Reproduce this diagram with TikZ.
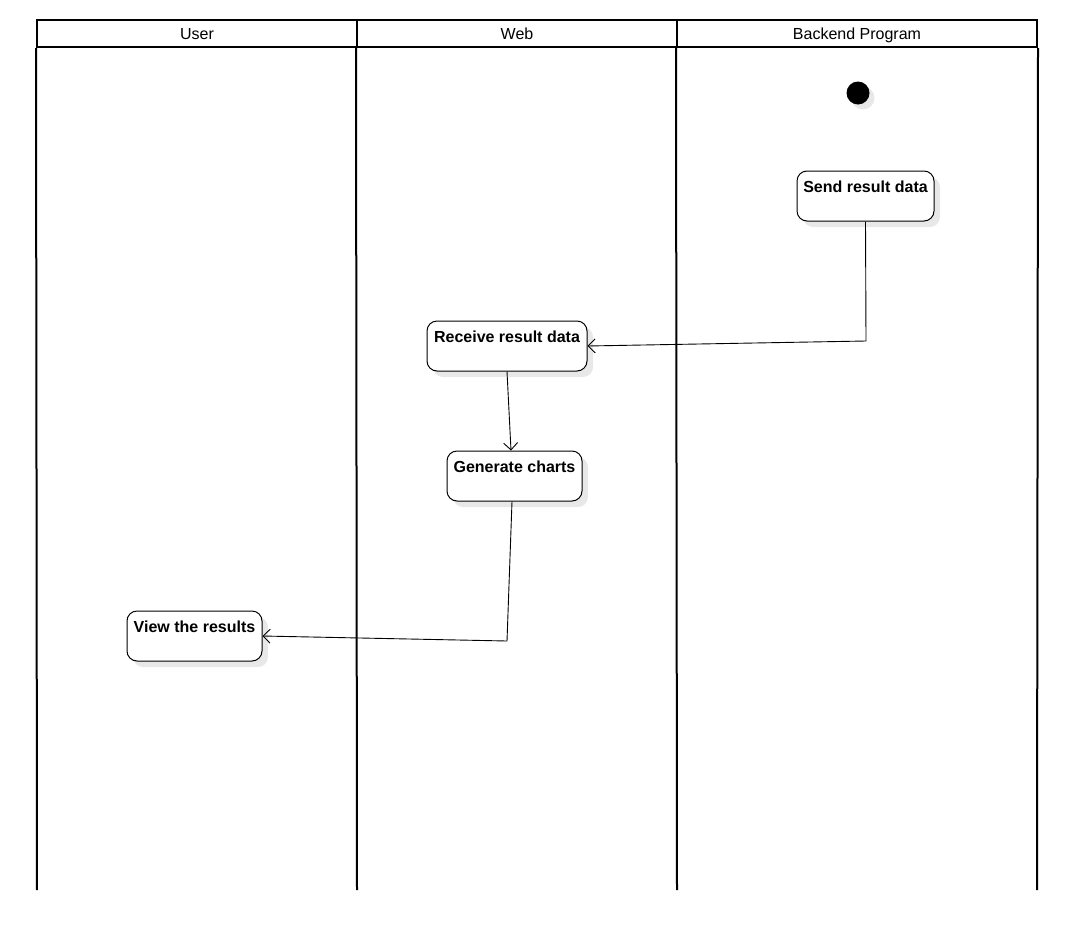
\documentclass[tikz,border=0pt]{standalone}
\usepackage{fontspec}
\setmainfont{Liberation Sans}
\usetikzlibrary{arrows.meta,shadows}
\begin{document}
\begin{tikzpicture}[x=1pt,y=-1pt,
  lanehead/.style={draw,line width=2pt,minimum height=27pt,inner sep=0pt,text height=13pt,text depth=2pt,font=\fontsize{16}{19}\selectfont},
  laneline/.style={line width=2pt},
  act/.style={draw,line width=1pt,rounded corners=10pt,fill=white,inner xsep=0pt,inner ysep=0pt,
    text height=21pt,text depth=29pt,font=\bfseries\fontsize{16}{19}\selectfont,
    drop shadow={shadow xshift=6pt,shadow yshift=-6pt,fill=black!9,opacity=1}},
  start/.style={circle,fill=black,minimum size=23pt,inner sep=0pt,
    drop shadow={shadow xshift=5pt,shadow yshift=-5pt,fill=black!9,opacity=1}},
  flow/.style={line width=0.9pt,-{Straight Barb[length=7pt,width=14pt,line width=0.9pt]}}
]
\useasboundingbox (0,0) rectangle (1082,929);
% lanes
\node[lanehead,minimum width=320pt] (h1) at (197,33.5) {User};
\node[lanehead,minimum width=320pt] (h2) at (517,33.5) {Web};
\node[lanehead,minimum width=360pt] (h3) at (857,33.5) {Backend Program};
\draw[laneline] (h1.south west) -- (37,890);
\draw[laneline] (h2.south west) -- (357,890);
\draw[laneline] (h3.south west) -- (677,890);
\draw[laneline] (h3.south east) -- (1037,890);
% nodes
\node[start] (init) at (858,93) {};
\node[act,minimum width=137pt] (send) at (865.5,196) {Send result data};
\node[act,minimum width=160pt] (rcv) at (507,346) {Receive result data};
\node[act,minimum width=135pt] (gen) at (514.5,476) {Generate charts};
\node[act,minimum width=135pt] (view) at (194.5,636) {View the results};
% connectors
\coordinate (c1) at (866,341);
\coordinate (c2) at (507,641);
\draw[flow] (send.south) -- (c1) -- (rcv.east);
\draw[flow] (rcv.south) -- ([xshift=-3.5pt]gen.north);
\draw[flow] ([xshift=-2.5pt]gen.south) -- (c2) -- (view.east);
\end{tikzpicture}
\end{document}
